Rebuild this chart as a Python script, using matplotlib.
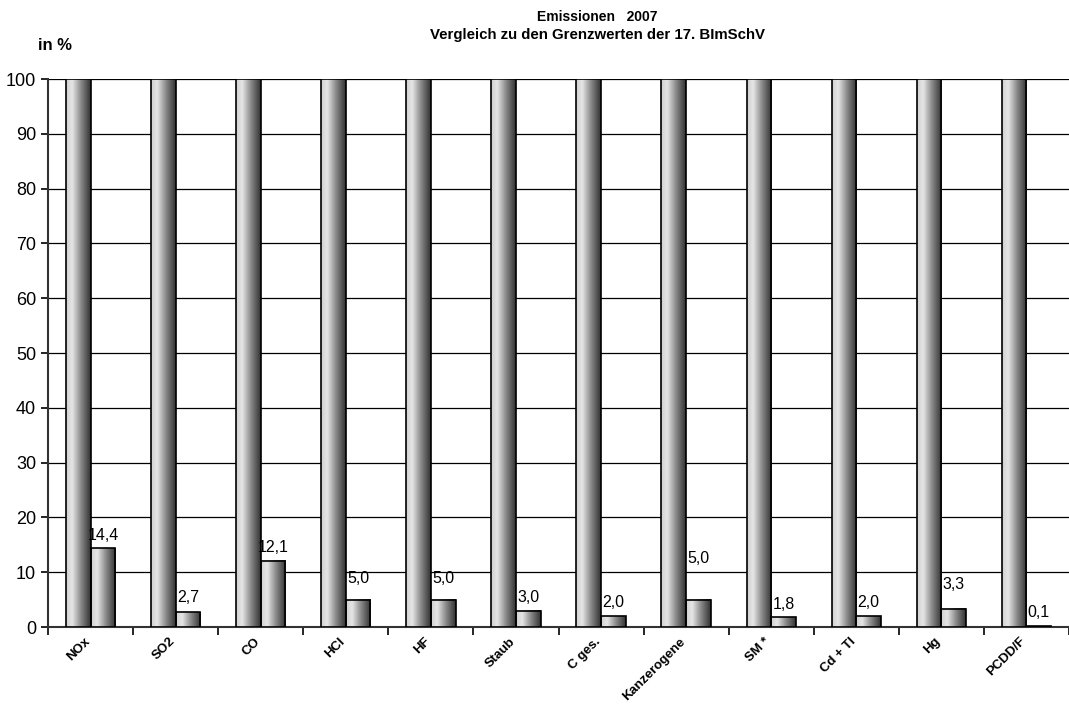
# Emissionen 2007 - Vergleich zu den Grenzwerten der 17. BImSchV
import numpy as np
import matplotlib.pyplot as plt
from matplotlib.colors import LinearSegmentedColormap
from matplotlib.transforms import ScaledTranslation

plt.rcParams['font.family'] = ['Liberation Sans', 'DejaVu Sans']

kategorien = ['NOx', 'SO2', 'CO', 'HCl', 'HF', 'Staub', 'C ges.', 'Kanzerogene',
              'SM *', 'Cd + Tl', 'Hg', 'PCDD/F']
grenzwert = [100, 100, 100, 100, 100, 100, 100, 100, 100, 100, 100, 100]
emission = [14.4, 2.7, 12.1, 5.0, 5.0, 3.0, 2.0, 5.0, 1.8, 2.0, 3.3, 0.1]
beschriftung = ['14,4', '2,7', '12,1', '5,0', '5,0', '3,0', '2,0', '5,0',
                '1,8', '2,0', '3,3', '0,1']
# vertikaler Abstand der Werte (in Punkten), wie im Original verschoben
abstand = [4, 5, 4, 10, 10, 4, 4, 24, 4, 4, 12, 5]

cmap = LinearSegmentedColormap.from_list(
    'grau', [(0, '#cfcfcf'), (0.25, '#e6e6e6'), (0.6, '#8a8a8a'), (1, '#303030')])
gradient = np.linspace(0, 1, 256).reshape(1, -1)

fig = plt.figure(figsize=(10.69, 7.04), dpi=100)
ax = fig.add_axes([48 / 1069, 1 - 627 / 704, 1 - 48 / 1069, (627 - 79) / 704])

x = np.arange(len(kategorien))
b = 0.29
bars1 = ax.bar(x - b / 2, grenzwert, width=b, facecolor='none', edgecolor='black',
               linewidth=1.2, zorder=4)
bars2 = ax.bar(x + b / 2, emission, width=b, facecolor='none', edgecolor='black',
               linewidth=1.2, zorder=4)

for bar in list(bars1) + list(bars2):
    x0, y0 = bar.get_x(), bar.get_y()
    w, h = bar.get_width(), bar.get_height()
    ax.imshow(gradient, cmap=cmap, aspect='auto', extent=[x0, x0 + w, y0, y0 + h],
              zorder=3, interpolation='bicubic')

for bar, txt, d in zip(bars2, beschriftung, abstand):
    ax.annotate(txt, (bar.get_x() + bar.get_width() / 2, bar.get_height()),
                xytext=(0, d), textcoords='offset points', ha='center', va='bottom',
                fontsize=11.5, zorder=5)

ax.set_xlim(-0.5, -0.5 + (1069 - 48) / 86)
ax.set_ylim(0, 100)
ax.set_yticks(range(0, 101, 10))
ax.yaxis.grid(True, color='black', linewidth=0.9)
ax.set_axisbelow(True)
ax.tick_params(axis='y', labelsize=13, length=5, width=1.2, direction='out')

ax.set_xticks(np.arange(len(kategorien) + 1) - 0.5, minor=False)
ax.set_xticklabels([])
ax.tick_params(axis='x', length=6, width=1.2, direction='out')
ax.set_xticks(x, minor=True)
ax.set_xticklabels(kategorien, minor=True, rotation=45, ha='right',
                   rotation_mode='anchor', fontsize=9.5, fontweight='bold')
ax.tick_params(axis='x', which='minor', length=0, pad=6)
for lbl in ax.get_xticklabels(minor=True):
    lbl.set_transform(lbl.get_transform() + ScaledTranslation(-5 / 72, 0, fig.dpi_scale_trans))

for s in ['top', 'right']:
    ax.spines[s].set_visible(False)
ax.spines['left'].set_linewidth(1.5)
ax.spines['left'].set_color('#333333')
ax.spines['bottom'].set_linewidth(1.5)
ax.spines['bottom'].set_color('#333333')

fig.text(597 / 1069, 1 - 17 / 704, 'Emissionen   2007', ha='center', va='center',
         fontsize=10, fontweight='bold')
fig.text(597 / 1069, 1 - 35 / 704, 'Vergleich zu den Grenzwerten der 17. BImSchV',
         ha='center', va='center', fontsize=10.8, fontweight='bold')
fig.text(38 / 1069, 1 - 45 / 704, 'in %', ha='left', va='center',
         fontsize=12, fontweight='bold')

fig.savefig('out.png', dpi=100)
